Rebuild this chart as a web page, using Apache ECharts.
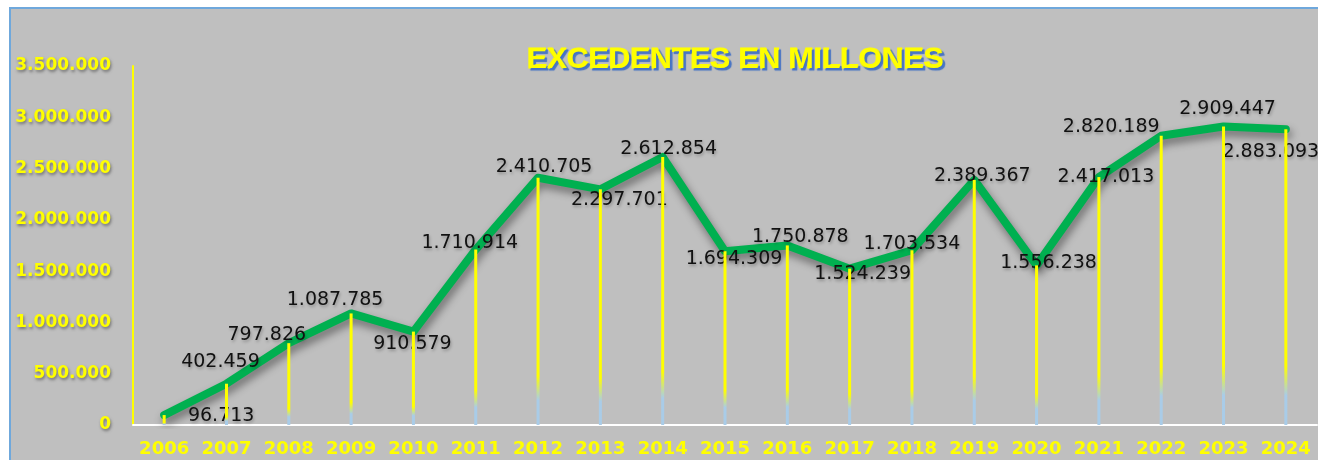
<!DOCTYPE html>
<html>
<head>
<meta charset="utf-8">
<script src="https://cdn.jsdelivr.net/npm/echarts@6/dist/echarts.min.js"></script>
<style>
  html, body { margin: 0; padding: 0; background: #fff; }
  #main { width: 1318px; height: 460px; }
</style>
</head>
<body>
<div id="main"></div>
<script>
const years = ['2006', '2007', '2008', '2009', '2010', '2011', '2012', '2013', '2014', '2015',
  '2016', '2017', '2018', '2019', '2020', '2021', '2022', '2023', '2024']
const excedentes = [96713, 402459, 797826, 1087785, 910579, 1710914, 2410705, 2297701, 2612854, 1694309,
  1750878, 1524239, 1703534, 2389367, 1556238, 2417013, 2820189, 2909447, 2883093]
// where each value label sits relative to its point (px)
const labelOffsets = [[57, 1], [-6, -22], [-22, -8], [-16, -13], [-1, 12], [-6, -6], [6, -11], [19, 11], [6, -8], [9, 8],
  [13, -8], [13, 5], [0, -6], [8, -4], [12, -2], [7, 0], [-50, -9], [4, -18], [-15, 23]]

const yellow = '#FFFF00'
const fmt = v => String(v).replace(/\B(?=(\d{3})+(?!\d))/g, '.')

const myChart = echarts.init(document.getElementById('main'))
const option = {
  animation: false,
  graphic: [{
    type: 'rect',
    z: -10,
    shape: { x: 10, y: 8, width: 1400, height: 500 },
    style: { fill: '#BFBFBF', stroke: '#6FA8DC', lineWidth: 2 }
  }],
  title: {
    text: 'EXCEDENTES EN MILLONES',
    left: 522,
    top: 40,
    textStyle: {
      color: yellow,
      fontFamily: 'Liberation Sans',
      fontWeight: 'bold',
      fontSize: 30,
      textBorderColor: yellow,
      textBorderWidth: 1.2,
      textShadowColor: '#4472C4',
      textShadowOffsetX: 2,
      textShadowOffsetY: 2,
      textShadowBlur: 1
    }
  },
  grid: { left: 133, right: 1, top: 66, bottom: 35 },
  xAxis: {
    type: 'category',
    data: years,
    axisLine: { lineStyle: { color: '#FFFFFF', width: 2 } },
    axisTick: { show: false },
    axisLabel: {
      interval: 0,
      color: yellow,
      fontFamily: 'DejaVu Sans',
      fontWeight: 'bold',
      fontSize: 18,
      margin: 15
    }
  },
  yAxis: {
    type: 'value',
    min: 0,
    max: 3500000,
    interval: 500000,
    splitLine: { show: false },
    axisTick: { show: false },
    axisLine: { show: true, lineStyle: { color: yellow, width: 2 } },
    axisLabel: {
      color: yellow,
      fontFamily: 'DejaVu Sans',
      fontWeight: 'bold',
      fontSize: 17,
      margin: 22,
      formatter: fmt,
      textShadowColor: 'rgba(60,60,60,0.6)',
      textShadowBlur: 3,
      textShadowOffsetX: 1,
      textShadowOffsetY: 2
    }
  },
  series: [
    {
      name: 'drop',
      type: 'bar',
      z: 10,
      barWidth: 3,
      data: excedentes,
      itemStyle: {
        color: {
          type: 'linear', x: 0, y: 0, x2: 0, y2: 1,
          colorStops: [
            { offset: 0, color: yellow },
            { offset: 0.8, color: yellow },
            { offset: 0.9, color: '#A9CCE8' },
            { offset: 1, color: '#A9CCE8' }
          ]
        }
      }
    },
    {
      name: 'Excedentes',
      type: 'line',
      z: 3,
      symbol: 'circle',
      symbolSize: 2,
      itemStyle: { color: 'rgba(0,0,0,0)' },
      lineStyle: {
        color: '#00B050',
        width: 8,
        cap: 'round',
        join: 'round',
        shadowColor: 'rgba(0,0,0,0.45)',
        shadowBlur: 8,
        shadowOffsetY: 5,
        shadowOffsetX: 2
      },
      label: {
        show: true,
        position: 'inside',
        color: '#111',
        fontFamily: 'DejaVu Sans',
        fontSize: 19,
        formatter: p => fmt(p.value),
        textShadowColor: 'rgba(0,0,0,0.25)',
        textShadowBlur: 3,
        textShadowOffsetX: 1,
        textShadowOffsetY: 2
      },
      data: excedentes.map((v, i) => ({ value: v, label: { offset: labelOffsets[i] } }))
    }
  ]
}
myChart.setOption(option)
</script>
</body>
</html>
